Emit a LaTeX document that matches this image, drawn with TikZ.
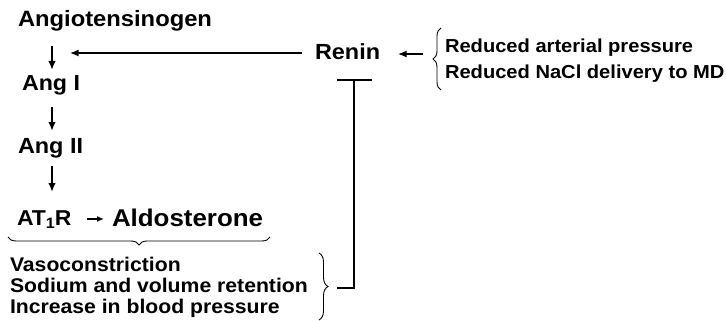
\documentclass[tikz,border=0pt]{standalone}
\usepackage{fontspec}
\setmainfont{Liberation Sans}[FakeStretch=1.07]
\usetikzlibrary{arrows.meta,decorations.pathreplacing}
\tikzset{
  lbl/.style={anchor=base west, inner sep=0pt, outer sep=0pt, font=\bfseries\fontsize{#1}{#1}\selectfont},
  arr/.style={line width=1.9pt, -{Latex[length=9pt,width=7.5pt]}},
  harr/.style={line width=1.4pt, -{Latex[length=8.5pt,width=7pt]}},
  sarr/.style={line width=1.3pt, -{Latex[length=7pt,width=6pt]}},
  bar/.style={line width=2pt},
  brc/.style={line width=0.9pt, decorate, decoration={brace, amplitude=#1}},
}
\begin{document}
\begin{tikzpicture}[x=1pt,y=-1pt]
\useasboundingbox (0,0) rectangle (726,321);
% main chain
\node[lbl=22.2] (angio) at (18,26.7) {Angiotensinogen};
\node[lbl=21.7] (ang1) at (22,90.7) {Ang I};
\node[lbl=21.9] (ang2) at (18,153) {Ang II};
\node[lbl=21.5] (at1r) at (17,225) {AT\raisebox{-3.5pt}{\fontsize{15}{15}\selectfont 1}R};
\node[lbl=24.2] (aldo) at (112,226) {Aldosterone};
\node[lbl=21.9] (renin) at (315,59.3) {Renin};
% stimuli
\node[lbl=18.8] (red1) at (445,52.7) {Reduced arterial pressure};
\node[lbl=18.8] (red2) at (445,78) {Reduced NaCl delivery to MD};
% effects
\node[lbl=19.8] (eff1) at (10,271.5) {Vasoconstriction};
\node[lbl=19.8] (eff2) at (10,292.5) {Sodium and volume retention};
\node[lbl=19.8] (eff3) at (10,313.5) {Increase in blood pressure};
% coordinates
\coordinate (a1s) at (52,46);
\coordinate (a1e) at (52,70);
\coordinate (a2s) at (52,107);
\coordinate (a2e) at (52,131);
\coordinate (a3s) at (52,166);
\coordinate (a3e) at (52,192);
\coordinate (rs) at (302,53);
\coordinate (re) at (70,53);
\coordinate (ss) at (423,54);
\coordinate (se) at (398,54);
\coordinate (ts) at (87,219);
\coordinate (te) at (104,219);
\coordinate (tbl) at (337,80);
\coordinate (tbr) at (372,80);
\coordinate (tbm) at (354,80);
\coordinate (tbb) at (354,288);
\coordinate (tbe) at (337,288);
% arrows
\draw[arr] (a1s) -- (a1e);
\draw[arr] (a2s) -- (a2e);
\draw[arr] (a3s) -- (a3e);
\draw[harr] (rs) -- (re);
\draw[harr] (ss) -- (se);
\draw[sarr] (ts) -- (te);
% inhibition bar
\draw[bar] (tbl) -- (tbr);
\draw[bar] (tbm) -- (tbb) -- (tbe);
% braces
\draw[brc=8pt] (441,90) -- (441,28);
\draw[brc=9pt] (319,253) -- (319,320);
\draw[brc=8pt] (270,237) -- (8,237);
\end{tikzpicture}
\end{document}
